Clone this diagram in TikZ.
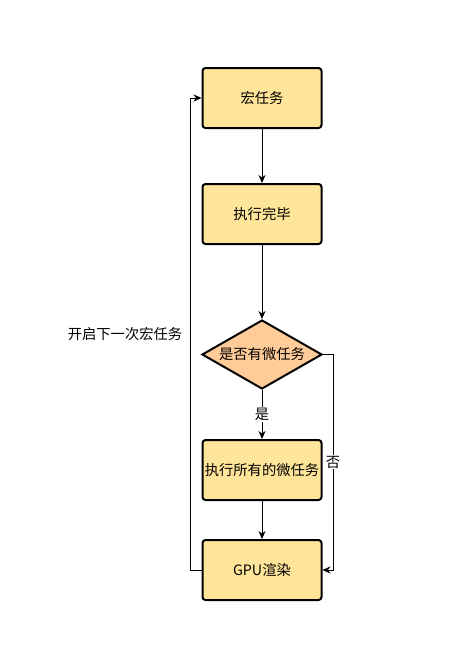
\documentclass[tikz,border=0pt]{standalone}
\usepackage{fontspec}
\setmainfont{Noto Sans CJK SC}
\usetikzlibrary{shapes.geometric}
\usetikzlibrary{arrows.meta}
\definecolor{boxfill}{HTML}{FFE599}
\definecolor{askfill}{HTML}{FFCC99}

\begin{document}
\begin{tikzpicture}[x=1pt, y=-1pt, line width=0.8pt, font=\fontsize{14.3}{16}\selectfont,
    stepbox/.style={draw, line width=2pt, rounded corners=3pt, fill=boxfill,
      minimum width=119pt, minimum height=60pt, inner sep=0pt},
    askbox/.style={draw, line width=2pt, diamond, fill=askfill, aspect=1.74,
      minimum width=120pt, minimum height=69pt, inner sep=0pt},
    flow/.style={-{Stealth[length=8pt, width=7pt]}},
    tag/.style={fill=white, inner sep=1pt}]
  \useasboundingbox (0,0) rectangle (466,654);
  \node[stepbox] (macro) at (262,98) {宏任务};
  \node[stepbox] (done) at (262,214) {执行完毕};
  \node[askbox] (ask) at (262,354.5) {是否有微任务};
  \node[stepbox] (micro) at (262,470) {执行所有的微任务};
  \node[stepbox] (render) at (262,570) {GPU渲染};
  \node (next) at (125,334) {开启下一次宏任务};

  \draw[flow] (macro) -- (done);
  \draw[flow] (done) -- (ask);
  \draw[flow] (ask) -- node[tag, pos=0.5] {是} (micro);
  \draw[flow] (micro) -- (render);
  \draw[flow] (ask.east) -- (333,354.5) -- node[tag, pos=0.5] {否} (333,570) -- (render.east);
  \draw[flow] (render.west) -- (190,570) -- (190,98) -- (macro.west);
\end{tikzpicture}
\end{document}
